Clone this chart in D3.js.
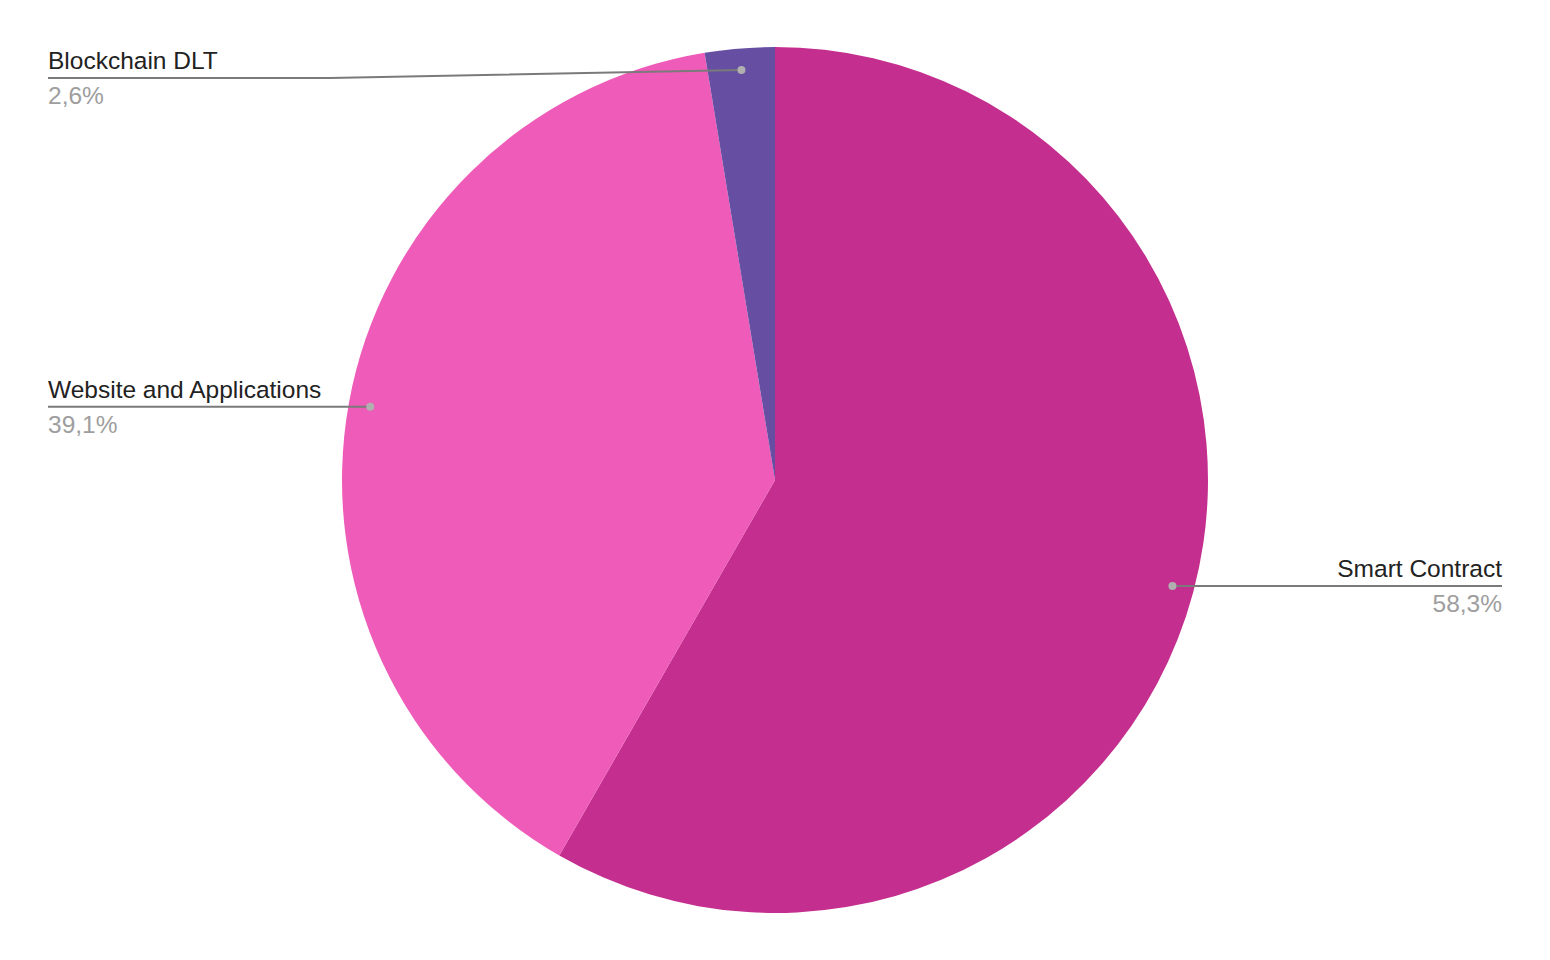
<!DOCTYPE html>
<html>
<head>
<meta charset="utf-8">
<script src="https://cdn.jsdelivr.net/npm/d3@7"></script>
<style>
  body { margin: 0; background: #fff; }
  svg { display: block; }
  text { font-family: "Liberation Sans", Arial, sans-serif; }
</style>
</head>
<body>
<div class="chart"></div>
<script>
var categories = ["Smart Contract", "Website and Applications", "Blockchain DLT"];
var values = [58.3, 39.1, 2.6];
var percentLabels = ["58,3%", "39,1%", "2,6%"];
var colors = ["#c42f8f", "#ef5bb8", "#664ea3"];

var width = 1550, height = 960;
var cx = 775, cy = 480, radius = 433;
var leftX = 48, rightX = 1502, minLineY = 78;

var svg = d3.select(".chart").append("svg")
  .attr("width", width)
  .attr("height", height);

var data = categories.map(function(c, i) {
  return { name: c, value: values[i], pct: percentLabels[i], color: colors[i] };
});

var pie = d3.pie().sort(null).value(function(d) { return d.value; });
var arc = d3.arc().innerRadius(0).outerRadius(radius);
var arcs = pie(data);

var g = svg.append("g").attr("transform", "translate(" + cx + "," + cy + ")");

g.selectAll("path.slice")
  .data(arcs)
  .enter()
  .append("path")
  .attr("class", "slice")
  .attr("d", arc)
  .attr("fill", function(d) { return d.data.color; });

// leader lines + labels
arcs.forEach(function(d) {
  var mid = (d.startAngle + d.endAngle) / 2;
  var dx = cx + Math.sin(mid) * radius * 0.95;
  var dy = cy - Math.cos(mid) * radius * 0.95;
  var right = Math.sin(mid) > 0;
  var lineY = Math.max(dy, minLineY);
  var edgeX = right ? rightX : leftX;
  var pts;
  if (Math.abs(lineY - dy) > 0.5) {
    var elbowX = right ? dx + 300 : 330;
    pts = [[dx, dy], [elbowX, lineY], [edgeX, lineY]];
  } else {
    pts = [[dx, dy], [edgeX, lineY]];
  }

  svg.append("path")
    .attr("d", d3.line()(pts))
    .attr("fill", "none")
    .attr("stroke", "#7a7a7a")
    .attr("stroke-width", 2);

  svg.append("circle")
    .attr("cx", dx).attr("cy", dy).attr("r", 4)
    .attr("fill", "#b0b0b0");

  svg.append("text")
    .attr("x", edgeX).attr("y", lineY - 9)
    .attr("text-anchor", right ? "end" : "start")
    .attr("font-size", 24.5)
    .attr("fill", "#222")
    .text(d.data.name);

  svg.append("text")
    .attr("x", edgeX).attr("y", lineY + 26)
    .attr("text-anchor", right ? "end" : "start")
    .attr("font-size", 24.5)
    .attr("fill", "#9e9e9e")
    .text(d.data.pct);
});
</script>
</body>
</html>
